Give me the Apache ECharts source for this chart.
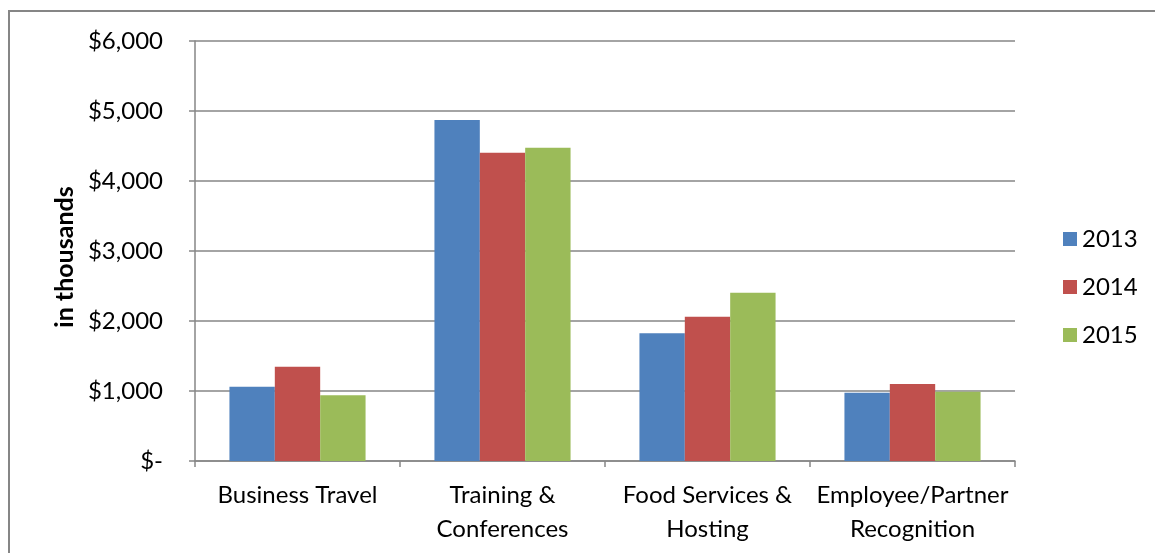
<!DOCTYPE html>
<html>
<head>
<meta charset="utf-8">
<script src="https://cdn.jsdelivr.net/npm/echarts@6/dist/echarts.min.js"></script>
<style>html,body{margin:0;padding:0;background:#fff;}#c{width:1155px;height:553px;}</style>
</head>
<body>
<div id="c"></div>
<script>
const categories = ['Business Travel', 'Training &\nConferences', 'Food Services &\nHosting', 'Employee/Partner\nRecognition'];
const years = ['2013', '2014', '2015'];
const values2013 = [1060, 4870, 1825, 975];
const values2014 = [1345, 4405, 2060, 1100];
const values2015 = [940, 4475, 2405, 990];
const yTicks = [0, 1000, 2000, 3000, 4000, 5000, 6000];
const colors = ['#4F81BD', '#C0504D', '#9BBB59'];

const FONT = 'Lato';
const chart = echarts.init(document.getElementById('c'), null, {renderer: 'canvas'});
const seriesData = [values2013, values2014, values2015];
chart.setOption({
  animation: false,
  color: colors,
  textStyle: {fontFamily: FONT},
  grid: {left: 195, right: 140, top: 41, bottom: 92},
  graphic: [{
    type: 'rect', silent: true,
    shape: {x: 9, y: 11, width: 2000, height: 2000},
    style: {fill: 'none', stroke: '#868686', lineWidth: 2}
  }],
  legend: {
    orient: 'vertical', left: 1058, top: 220,
    itemWidth: 14, itemHeight: 14, itemGap: 20, itemTextGap: 6,
    icon: 'rect',
    data: years,
    textStyle: {fontFamily: FONT, fontSize: 24, color: '#000', lineHeight: 28}
  },
  xAxis: {
    type: 'category', data: categories,
    axisLine: {lineStyle: {color: '#868686', width: 1.5}},
    axisTick: {show: true, length: 6, lineStyle: {color: '#868686', width: 1.5}},
    axisLabel: {fontFamily: FONT, fontSize: 24, color: '#000', lineHeight: 34, margin: 17, interval: 0}
  },
  yAxis: {
    type: 'value', min: yTicks[0], max: yTicks[yTicks.length - 1], interval: 1000,
    name: 'in thousands', nameLocation: 'middle', nameGap: 110, nameRotate: 90,
    nameTextStyle: {fontFamily: FONT, fontSize: 25, fontWeight: 'bold', color: '#000', padding: [0, 12, 0, 0]},
    axisLine: {show: true, lineStyle: {color: '#868686', width: 1.5}},
    axisTick: {show: true, length: 6, lineStyle: {color: '#868686', width: 1.5}},
    splitLine: {show: true, lineStyle: {color: '#868686', width: 1.5}},
    axisLabel: {
      fontFamily: FONT, fontSize: 24, color: '#000', margin: 32,
      formatter: v => v === 0 ? '$-' : '$' + v.toLocaleString('en-US')
    }
  },
  series: years.map((y, i) => ({
    name: y, type: 'bar', data: seriesData[i],
    barGap: '0%', barCategoryGap: '33.6%'
  }))
});
</script>
</body>
</html>
